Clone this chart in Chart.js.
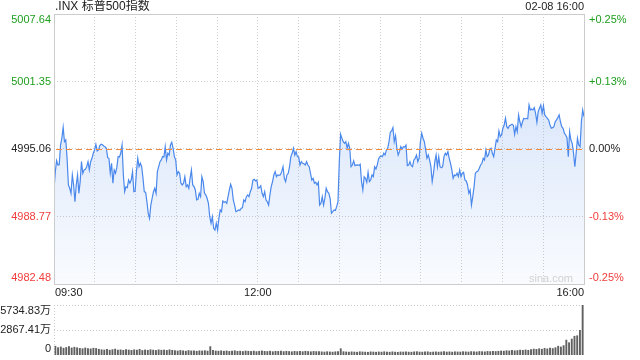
<!DOCTYPE html>
<html><head><meta charset="utf-8">
<script src="https://cdn.jsdelivr.net/npm/chart.js@4.4.1/dist/chart.umd.min.js"></script>
<style>
html,body{margin:0;padding:0;background:#fff;width:640px;height:360px;overflow:hidden}
#wrap{position:relative;width:640px;height:360px}
#c1{position:absolute;left:0;top:0}
#c2{position:absolute;left:0;top:300px}
</style></head><body>
<div id="wrap"><canvas id="c1" width="640" height="300"></canvas><canvas id="c2" width="640" height="60"></canvas></div>
<script>
const titleText = '.INX 标普500指数';
const stampText = '02-08 16:00';
const watermark = 'sina.com';
const prevClose = 4995.06;
const priceTicks = [5007.64, 5001.35, 4995.06, 4988.77, 4982.48];
const pctLabels = ['+0.25%', '+0.13%', '0.00%', '-0.13%', '-0.25%'];
const timeLabels = ['09:30', '12:00', '16:00'];
const timeLabelSlots = [0, 5, 13];
const halfHourSlots = 13;
const volTicks = [5734.83, 2867.41, 0];
const volLabels = ['5734.83万', '2867.41万', '0'];

const prices = [
4991.30,4992.95,4993.97,4993.57,4993.60,4995.43,4996.06,4997.08,4995.74,4995.90,
4994.19,4991.71,4991.40,4990.93,4992.64,4991.71,4990.15,4991.71,4992.64,4990.93,
4992.02,4993.88,4992.80,4993.11,4993.16,4993.41,4993.88,4993.11,4993.88,4994.19,
4994.66,4994.97,4995.50,4994.88,4994.97,4995.37,4995.50,4995.46,4995.34,4995.28,
4995.13,4994.25,4994.19,4992.80,4993.73,4991.87,4993.11,4992.80,4993.32,4994.35,
4994.31,4994.66,4995.43,4992.64,4991.08,4991.55,4991.46,4992.17,4991.87,4992.17,
4992.95,4991.08,4991.12,4992.95,4994.19,4993.41,4993.73,4993.41,4992.33,4991.08,
4991.03,4990.15,4989.07,4988.60,4989.84,4990.47,4991.08,4991.40,4990.93,4992.95,
4993.41,4993.88,4994.04,4994.35,4994.31,4995.28,4994.04,4994.66,4994.50,4995.43,
4995.69,4995.13,4994.35,4994.04,4992.64,4992.95,4992.80,4991.87,4991.71,
4991.87,4992.48,4991.55,4991.71,4991.40,4992.33,4993.11,4991.71,4991.55,4991.24,
4990.31,4990.36,4990.93,4990.62,4992.48,4992.02,4990.93,4990.78,4990.47,4990.00,
4988.75,4988.14,4988.75,4987.67,4987.51,4988.14,4987.51,4988.60,4989.38,4989.22,
4990.22,4990.10,4990.15,4990.00,4990.62,4991.24,4991.77,4991.40,4990.31,4989.84,
4989.22,4989.29,4989.38,4989.33,4989.54,4989.58,4990.31,4990.15,4990.62,4990.78,
4990.62,4991.08,4991.40,4992.17,4992.24,4992.08,4992.17,4991.40,4991.46,4991.64,
4990.93,4990.62,4991.08,4990.31,4990.15,4989.84,4990.78,4991.55,4992.02,4992.64,
4992.95,4992.48,4992.64,4992.60,4992.66,4992.95,4993.41,4992.33,4992.02,4992.64,
4992.80,4993.41,4994.35,4994.66,4995.13,4994.50,4994.81,4994.35,4994.31,4993.57,
4993.88,4993.73,4993.69,4993.57,4993.88,4993.57,4993.41,4992.80,4992.17,4992.33,
4991.87,4991.96,4991.71,4991.96,4989.84,4990.00,4990.62,4989.84,4990.47,4991.40,
4991.08,4990.93,4990.47,4989.07,4989.22,4989.38,4989.34,4989.69,4990.15,4993.88,
4996.43,4996.06,4995.74,4995.59,4995.74,4995.13,4995.59,4995.13,4993.41,4993.57,
4993.95,4993.51,4993.55,4993.57,4993.53,4993.64,4992.02,4991.24,4992.48,4992.33,
4991.96,4992.89,4992.02,4992.17,4992.64,4992.48,4993.41,4993.20,4993.57,4994.13,
4994.35,4994.41,4994.35,4994.66,4994.50,4994.97,4995.13,4995.74,4996.62,4996.74,
4997.05,4995.74,4996.30,4995.13,4994.50,4994.81,4995.28,4995.06,4995.28,4995.24,
4995.43,4993.51,4993.57,4993.88,4993.51,4993.41,4994.04,4994.19,4994.50,4993.88,
4994.19,4995.74,4996.53,4996.06,4995.74,4994.97,4994.19,4994.50,4994.04,4993.41,
4992.02,4992.80,4993.88,4994.50,4993.41,4994.35,4993.41,4993.32,4993.41,4994.35,
4994.66,
4994.50,4994.81,4994.19,4993.73,4993.11,4992.33,4992.64,4992.57,4992.80,4992.48,
4993.11,4992.48,4992.80,4992.89,4992.17,4992.08,4991.71,4990.93,4991.24,4989.84,
4990.62,4991.55,4992.80,4992.95,4993.01,4993.26,4993.57,4993.73,4994.19,4994.04,
4994.97,4994.35,4994.50,4995.01,4995.13,4994.66,4994.35,4995.13,4995.90,4995.74,
4996.74,4996.21,4996.37,4996.99,4997.30,4997.92,4997.14,4996.99,4997.23,4997.30,
4997.37,4997.27,4996.43,4997.14,4996.67,4998.23,4997.60,4997.14,4997.60,4997.92,
4997.86,4997.92,4997.88,4999.16,4998.70,4998.79,4998.70,4998.91,4998.39,4997.55,
4998.54,4998.86,4999.16,4998.39,4999.10,4998.23,4998.07,4997.92,4997.77,4997.30,
4996.99,4997.05,4997.14,4997.60,4997.77,4997.98,4998.23,4997.60,4997.14,4996.99,
4996.53,4996.37,4996.12,4994.35,4996.67,4995.90,4995.59,4994.66,4993.41,4994.66,
4996.06,4995.43,4995.28,4997.60,4998.70,4998.07
];

const volumes = [
1050,880,960,820,900,1010,850,930,870,
800,760,850,780,740,820,790,
700,640,610,680,590,650,720,600,630,580,660,610,570,640,600,690,560,620,580,650,600,560,630,590,610,570,640,580,
540,500,560,520,480,550,510,530,470,520,500,540,490,
1000,
560,500,480,520,470,510,450,490,530,460,480,440,500,470,450,490,430,470,510,460,
440,480,420,460,450,490,430,470,440,410,460,430,450,420,470,440,410,450,430,420,
400,380,420,390,370,410,440,
760,
420,390,370,400,380,360,410,390,370,350,400,380,360,390,370,410,380,360,400,370,
350,390,380,410,370,360,400,420,380,370,390,410,360,380,400,370,390,420,380,400,
370,410,390,380,420,400,380,430,410,390,440,420,400,450,430,460,440,470,
500,480,530,510,560,520,550,600,570,620,580,
650,720,690,760,700,800,740,820,780,
880,1050,960,1120,
1750,1450,1870,2190,2250,2867.41,5734.83
];

const FONT = '"Liberation Sans", Arial, "Noto Sans CJK SC", sans-serif';
const GREEN = '#1e9e1e', RED = '#f23c3c', DARK = '#222';
const priceColors = [GREEN, GREEN, DARK, RED, RED];
const nP = prices.length;

function edgeShift(i, n) { return i === 0 ? 6 : (i === n - 1 ? -6 : 0); }

const mainPlugin = {
  id: 'mainDeco',
  afterDraw(chart) {
    const {ctx, chartArea: ca, scales} = chart;
    ctx.save();
    const yRow = Math.round(scales.y.getPixelForValue(prevClose));
    ctx.fillStyle = '#f5893c';
    for (let px = ca.left + 2; px < ca.right; px += 10) {
      ctx.fillRect(px, yRow, Math.min(6, ca.right - px), 1);
    }
    ctx.strokeStyle = '#cccccc';
    ctx.lineWidth = 1;
    ctx.setLineDash([]);
    ctx.strokeRect(ca.left + 0.5, ca.top + 0.5, ca.right - ca.left, ca.bottom - ca.top);
    ctx.textBaseline = 'middle';
    ctx.font = '11px ' + FONT;
    priceTicks.forEach((v, i) => {
      const py = scales.y.getPixelForValue(v) + edgeShift(i, priceTicks.length);
      ctx.fillStyle = priceColors[i];
      ctx.textAlign = 'right';
      ctx.fillText(v.toFixed(2), ca.left - 3, py);
      ctx.textAlign = 'left';
      ctx.fillText(pctLabels[i], ca.right + 5, py);
    });
    ctx.fillStyle = DARK;
    timeLabels.forEach((t, i) => {
      const px = scales.x.getPixelForValue(timeLabelSlots[i] * (nP - 1) / halfHourSlots);
      ctx.textAlign = i === 0 ? 'left' : (i === timeLabels.length - 1 ? 'right' : 'center');
      ctx.fillText(t, px + (i === 0 ? 1 : 0), ca.bottom + 9);
    });
    ctx.textAlign = 'right';
    ctx.fillText(stampText, ca.right, 7);
    ctx.font = '12px ' + FONT;
    ctx.textAlign = 'left';
    ctx.fillText(titleText, ca.left + 1, 7);
    ctx.font = '11px ' + FONT;
    ctx.fillStyle = '#d2d2d2';
    ctx.textAlign = 'right';
    ctx.fillText(watermark, ca.right - 11, ca.bottom - 5);
    ctx.restore();
  }
};

new Chart(document.getElementById('c1'), {
  type: 'line',
  data: {
    datasets: [{
      data: prices.map((v, i) => ({x: i, y: v})),
      borderColor: '#4a88ec',
      borderWidth: 1.2,
      pointRadius: 0,
      tension: 0,
      fill: 'start',
      backgroundColor: (c) => {
        const ca = c.chart.chartArea;
        if (!ca) return 'rgba(74,134,232,0.1)';
        const g = c.chart.ctx.createLinearGradient(0, ca.top, 0, ca.bottom);
        g.addColorStop(0, 'rgba(74,134,232,0.28)');
        g.addColorStop(1, 'rgba(74,134,232,0.03)');
        return g;
      }
    }]
  },
  options: {
    responsive: false, animation: false, devicePixelRatio: 1,
    layout: {padding: {left: 54, right: 56, top: 14, bottom: 16}},
    plugins: {legend: {display: false}, tooltip: {enabled: false}},
    scales: {
      x: {
        type: 'linear', min: 0, max: nP - 1,
        afterBuildTicks: (s) => { s.ticks = Array.from({length: halfHourSlots + 1}, (_, k) => ({value: k * (nP - 1) / halfHourSlots})); },
        ticks: {display: false},
        grid: {color: '#cfcfcf', drawTicks: false, lineWidth: 1},
        border: {display: false, dash: [1, 2]},
        afterFit: (s) => { s.height = 0; }
      },
      y: {
        min: priceTicks[priceTicks.length - 1], max: priceTicks[0],
        afterBuildTicks: (s) => { s.ticks = priceTicks.map(v => ({value: v})); },
        ticks: {display: false},
        grid: {color: '#cfcfcf', drawTicks: false, lineWidth: 1},
        border: {display: false, dash: [1, 2]},
        afterFit: (s) => { s.width = 0; }
      }
    }
  },
  plugins: [mainPlugin]
});

const volPlugin = {
  id: 'volDeco',
  afterDraw(chart) {
    const {ctx, chartArea: ca, scales} = chart;
    ctx.save();
    ctx.strokeStyle = '#cccccc';
    ctx.lineWidth = 1;
    ctx.setLineDash([1, 2]);
    ctx.beginPath(); ctx.moveTo(ca.left + 0.5, ca.top); ctx.lineTo(ca.left + 0.5, ca.bottom); ctx.stroke();
    ctx.setLineDash([]);
    ctx.textBaseline = 'middle';
    ctx.textAlign = 'right';
    ctx.fillStyle = DARK;
    ctx.font = '11px ' + FONT;
    volTicks.forEach((v, i) => {
      const py = scales.y.getPixelForValue(v) + edgeShift(i, volTicks.length);
      ctx.fillText(volLabels[i], ca.left - 3, py);
    });
    ctx.restore();
  }
};

new Chart(document.getElementById('c2'), {
  type: 'bar',
  data: {
    labels: volumes.map((_, i) => i),
    datasets: [{data: volumes, backgroundColor: '#606060', barPercentage: 1, categoryPercentage: 0.7}]
  },
  options: {
    responsive: false, animation: false, devicePixelRatio: 1,
    layout: {padding: {left: 54, right: 56, top: 5, bottom: 5}},
    plugins: {legend: {display: false}, tooltip: {enabled: false}},
    scales: {
      x: {ticks: {display: false}, grid: {display: false}, border: {display: false}, afterFit: (s) => { s.height = 0; }},
      y: {
        min: 0, max: volTicks[0],
        afterBuildTicks: (s) => { s.ticks = volTicks.filter(v => v > 0).map(v => ({value: v})); },
        ticks: {display: false},
        grid: {color: '#c8c8c8', drawTicks: false, lineWidth: 1},
        border: {display: false, dash: [1, 2]},
        afterFit: (s) => { s.width = 0; }
      }
    }
  },
  plugins: [volPlugin]
});
</script>
</body></html>
